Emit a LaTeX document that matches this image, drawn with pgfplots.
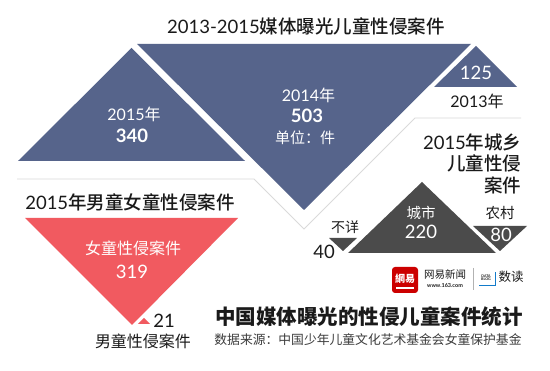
\documentclass[border=0pt]{standalone}
\usepackage{fontspec}
\usepackage{pgfplots}
\pgfplotsset{compat=1.18}
\setmainfont{Noto Sans CJK SC}
\newfontfamily\cjkm{Noto Sans CJK SC Medium}
\newfontfamily\cjkh{Noto Sans CJK SC Black}
\newfontfamily\lat{Lato}
\definecolor{cblue}{HTML}{56648B}
\definecolor{cred}{HTML}{F15A60}
\definecolor{cgray}{HTML}{4B4B4B}
\definecolor{cline}{HTML}{DADADA}
\definecolor{ctxt}{HTML}{1A1A1A}
\newcommand\fs[1]{\fontsize{#1}{#1}\selectfont}
\begin{document}
\begin{tikzpicture}
\begin{axis}[x=1pt,y=1pt,y dir=reverse,xmin=0,xmax=550,ymin=0,ymax=371,
  hide axis,clip=false,scale only axis]
% background
\addplot[fill=white,draw=none] coordinates {(0,0)(550,0)(550,371)(0,371)} --cycle;
% 2013-2015 triangles
\addplot[fill=cblue,draw=none] coordinates {(18,161)(245,161)(131.5,48)} --cycle;
\addplot[fill=cblue,draw=none] coordinates {(137,44)(471,44)(304,210)} --cycle;
\addplot[fill=cblue,draw=none] coordinates {(434,87)(517,87)(476,46)} --cycle;
% outline
\addplot[draw=cline,line width=0.9pt] coordinates {(17,179)(254,179)(304,229)(415,118)(521,118)};
% boys / girls
\addplot[fill=cred,draw=none] coordinates {(25,218)(238,218)(132,325)} --cycle;
\addplot[fill=cred,draw=none] coordinates {(138,324)(150,324)(144,318)} --cycle;
% city / rural
\addplot[fill=cgray,draw=none] coordinates {(348,253)(496,253)(422,182)} --cycle;
\addplot[fill=cgray,draw=none] coordinates {(329,238)(357,238)(343,251)} --cycle;
\addplot[fill=cgray,draw=none] coordinates {(473,226)(527,226)(500,251)} --cycle;

% texts top
\node[text=ctxt,font=\fs{18.5}\cjkm] at (axis cs:306,26) {{\lat 2013-2015}媒体曝光儿童性侵案件};
\node[text=white,font=\fs{16}] at (axis cs:134,114.5) {{\lat 2015}年};
\node[text=white,font=\fs{18.5}\lat\bfseries] at (axis cs:132,135.5) {340};
\node[text=white,font=\fs{16}] at (axis cs:308.5,95) {{\lat 2014}年};
\node[text=white,font=\fs{18.5}\lat\bfseries] at (axis cs:307,116) {503};
\node[text=white,font=\fs{15}] at (axis cs:305,138) {单位：件};
\node[text=white,font=\fs{18.5}\lat] at (axis cs:476,73) {125};
\node[text=ctxt,font=\fs{16}] at (axis cs:477,101) {{\lat 2013}年};
% right block
\node[text=ctxt,font=\fs{18.5}\cjkm,anchor=east] at (axis cs:525,142) {{\lat 2015}年城乡};
\node[text=ctxt,font=\fs{18.5}\cjkm,anchor=east] at (axis cs:525,163.5) {儿童性侵};
\node[text=ctxt,font=\fs{18.5}\cjkm,anchor=east] at (axis cs:525,185) {案件};
\node[text=ctxt,font=\fs{14}] at (axis cs:345,227) {不详};
\node[text=ctxt,font=\fs{18.5}\lat] at (axis cs:324,252) {40};
\node[text=white,font=\fs{14.5}] at (axis cs:421,213) {城市};
\node[text=white,font=\fs{18.5}\lat] at (axis cs:421,232) {220};
\node[text=ctxt,font=\fs{14.5}] at (axis cs:500,213) {农村};
\node[text=white,font=\fs{18.5}\lat] at (axis cs:501,235) {80};
% left block
\node[text=ctxt,font=\fs{18.5}\cjkm] at (axis cs:130,202) {{\lat 2015}年男童女童性侵案件};
\node[text=white,font=\fs{16}] at (axis cs:133,248) {女童性侵案件};
\node[text=white,font=\fs{18.5}\lat] at (axis cs:132,272) {319};
\node[text=ctxt,font=\fs{18.5}\lat] at (axis cs:164,321) {21};
\node[text=ctxt,font=\fs{16}] at (axis cs:143,341) {男童性侵案件};
% titles
\node[text=ctxt,font=\fs{20.5}\cjkh] at (axis cs:369,317) {中国媒体曝光的性侵儿童案件统计};
\node[text=ctxt!85,font=\fs{12.8}] at (axis cs:368,340) {数据来源：中国少年儿童文化艺术基金会女童保护基金};
% logo
\fill[red!80!black,rounded corners=3pt] (axis cs:392,267) rectangle (axis cs:418,293);
\node[text=white,font=\fs{10}\bfseries] at (axis cs:405,278.5) {網易};
\fill[white] (axis cs:396,287.5) rectangle (axis cs:414,289);
\node[text=ctxt,font=\fs{10.5}] at (axis cs:445,275) {网易新闻};
\node[text=ctxt,font=\fs{5.5}\lat\bfseries] at (axis cs:445,285.5) {www.163.com};
\draw[gray!60,line width=0.6pt] (axis cs:473,268) -- (axis cs:473,290);
\node[text=ctxt,font=\fs{3.6}\lat\bfseries,align=center,inner sep=0pt] at (axis cs:486,278) {DATA\\[-1pt]BLOG};
\draw[cyan!60!blue,line width=1pt] (axis cs:479,286) -- (axis cs:495,286) -- (axis cs:495,272);
\node[text=ctxt,font=\fs{12.5}] at (axis cs:511,277) {数读};
\end{axis}
\end{tikzpicture}
\end{document}
